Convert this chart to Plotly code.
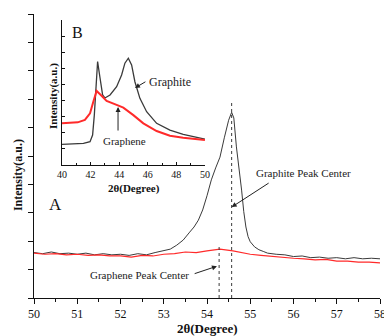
import plotly.graph_objects as go

# ---- Main panel (A) data ----
graphite_x = [50.0, 50.2, 50.4, 50.6, 50.8, 51.0, 51.2, 51.4, 51.6, 51.8, 52.0, 52.2, 52.4, 52.6, 52.8,
              53.0, 53.15, 53.3, 53.45, 53.6, 53.7, 53.8, 53.9, 54.0, 54.1, 54.2, 54.3, 54.4, 54.5,
              54.57, 54.62, 54.68, 54.75, 54.8, 54.85, 54.9, 54.95, 55.0, 55.1, 55.2, 55.3, 55.4,
              55.6, 55.8, 56.0, 56.2, 56.4, 56.6, 56.8, 57.0, 57.2, 57.4, 57.6, 57.8, 58.0]
graphite_y = [0.80, 0.78, 0.81, 0.78, 0.79, 0.77, 0.79, 0.76, 0.78, 0.76, 0.77, 0.75, 0.78, 0.76, 0.80,
              0.83, 0.86, 0.93, 1.02, 1.16, 1.25, 1.37, 1.55, 1.80, 2.08, 2.29, 2.48, 2.82, 3.13,
              3.27, 3.17, 2.66, 2.25, 1.90, 1.52, 1.25, 1.08, 0.99, 0.90, 0.85, 0.82, 0.79,
              0.77, 0.76, 0.73, 0.74, 0.71, 0.72, 0.70, 0.71, 0.69, 0.71, 0.69, 0.70, 0.69]

graphene_x = [50.0, 50.25, 50.5, 50.75, 51.0, 51.25, 51.5, 51.75, 52.0, 52.25, 52.5, 52.75, 53.0,
              53.25, 53.5, 53.75, 54.0, 54.3, 54.6, 54.8, 55.0, 55.25, 55.5, 55.75, 56.0, 56.25,
              56.5, 56.75, 57.0, 57.25, 57.5, 57.75, 58.0]
graphene_y = [0.79, 0.77, 0.78, 0.76, 0.77, 0.75, 0.76, 0.74, 0.74, 0.72, 0.75, 0.74, 0.77,
              0.78, 0.81, 0.80, 0.83, 0.86, 0.83, 0.80, 0.77, 0.75, 0.73, 0.72, 0.70, 0.69,
              0.67, 0.68, 0.65, 0.65, 0.63, 0.63, 0.62]

graphite_center = 54.57
graphene_center = 54.28

main_xticks = [50, 51, 52, 53, 54, 55, 56, 57, 58]

# ---- Inset panel (B) data ----
inset_graphite_x = [40.0, 40.5, 41.0, 41.5, 41.96, 42.14, 42.26, 42.38, 42.49, 42.66, 42.84, 43.0,
                    43.36, 43.82, 44.17, 44.4, 44.64, 44.87, 45.1, 45.45, 45.92, 46.62, 47.55,
                    48.48, 49.42, 50.0]
inset_graphite_y = [1.28, 1.30, 1.32, 1.35, 1.45, 1.86, 3.10, 5.17, 6.42, 5.40, 4.35, 4.16,
                    4.35, 4.86, 5.59, 6.32, 6.63, 6.21, 5.17, 4.14, 3.31, 2.59, 2.17,
                    1.91, 1.70, 1.61]

inset_graphene_x = [40.0, 40.5, 41.1, 41.6, 41.96, 42.19, 42.42, 42.66, 43.12, 43.82, 44.29, 44.99,
                    45.69, 46.62, 47.55, 48.48, 49.42, 50.0]
inset_graphene_y = [2.59, 2.62, 2.65, 2.80, 3.21, 3.93, 4.60, 4.39, 3.98, 3.73, 3.56, 3.10,
                    2.59, 2.11, 1.82, 1.70, 1.61, 1.55]

inset_xticks = [40, 42, 44, 46, 48, 50]

GRAY = "#3a3a3a"
RED = "#ff2a2a"
FONT = "Liberation Serif"

fig = go.Figure()
fig.add_trace(go.Scatter(x=graphite_x, y=graphite_y, mode="lines",
                         line=dict(color=GRAY, width=1), xaxis="x", yaxis="y"))
fig.add_trace(go.Scatter(x=graphene_x, y=graphene_y, mode="lines",
                         line=dict(color=RED, width=1.2), xaxis="x", yaxis="y"))
fig.add_trace(go.Scatter(x=inset_graphite_x, y=inset_graphite_y, mode="lines",
                         line=dict(color=GRAY, width=1.3), xaxis="x2", yaxis="y2"))
fig.add_trace(go.Scatter(x=inset_graphene_x, y=inset_graphene_y, mode="lines",
                         line=dict(color=RED, width=2), xaxis="x2", yaxis="y2"))

# peak-center dashed lines
fig.add_shape(type="line", xref="x", yref="y", x0=graphite_center, x1=graphite_center,
              y0=0, y1=3.47, line=dict(color=GRAY, width=1, dash="dot"))
fig.add_shape(type="line", xref="x", yref="y", x0=graphene_center, x1=graphene_center,
              y0=0, y1=0.95, line=dict(color=GRAY, width=1, dash="dot"))

ann_font = dict(family=FONT, size=11, color="#222")
C = dict(xanchor="center", yanchor="middle")
annotations = [
    dict(x=56.24, y=2.2, xref="x", yref="y", text="Graphite Peak Center", showarrow=False, font=ann_font, **C),
    dict(x=graphite_center, y=1.60, ax=55.46, ay=2.04, xref="x", yref="y", axref="x", ayref="y",
         text="", showarrow=True, arrowhead=2, arrowsize=1, arrowwidth=1, arrowcolor="#222"),
    dict(x=52.45, y=0.405, xref="x", yref="y", text="Graphene Peak Center", showarrow=False, font=ann_font, **C),
    dict(x=54.23, y=0.56, ax=53.68, ay=0.42, xref="x", yref="y", axref="x", ayref="y",
         text="", showarrow=True, arrowhead=2, arrowsize=1, arrowwidth=1, arrowcolor="#222"),
    dict(x=50.49, y=1.64, xref="x", yref="y", text="A", showarrow=False,
         font=dict(family=FONT, size=17, color="#111"), **C),
    dict(x=41.05, y=8.2, xref="x2", yref="y2", text="B", showarrow=False,
         font=dict(family=FONT, size=16, color="#111"), **C),
    dict(x=47.55, y=5.16, xref="x2", yref="y2", text="Graphite", showarrow=False,
         font=dict(family=FONT, size=12, color="#222"), **C),
    dict(x=45.1, y=4.78, ax=45.94, ay=5.22, xref="x2", yref="y2", axref="x2", ayref="y2",
         text="", showarrow=True, arrowhead=2, arrowsize=1, arrowwidth=1, arrowcolor="#222"),
    dict(x=44.34, y=1.49, xref="x2", yref="y2", text="Graphene", showarrow=False,
         font=dict(family=FONT, size=11, color="#222"), **C),
    dict(x=43.92, y=3.6, ax=43.92, ay=2.05, xref="x2", yref="y2", axref="x2", ayref="y2",
         text="", showarrow=True, arrowhead=2, arrowsize=1, arrowwidth=1, arrowcolor="#222"),
    # axis titles
    dict(x=0.502, y=-0.106, xref="paper", yref="paper", text="<b>2θ(Degree)</b>", showarrow=False,
         font=dict(family=FONT, size=13, color="#111"), **C),
    dict(x=-0.046, y=0.433, xref="paper", yref="paper", text="<b>Intensity(a.u.)</b>", showarrow=False,
         textangle=-90, font=dict(family=FONT, size=12, color="#111"), **C),
    dict(x=0.2876, y=0.387, xref="paper", yref="paper", text="<b>2θ(Degree)</b>", showarrow=False,
         font=dict(family=FONT, size=11, color="#111"), **C),
    dict(x=0.055, y=0.711, xref="paper", yref="paper", text="<b>Intensity(a.u.)</b>", showarrow=False,
         textangle=-90, font=dict(family=FONT, size=11, color="#111"), **C),
]

fig.update_layout(
    width=384, height=336,
    margin=dict(l=34, r=4, t=14, b=38),
    paper_bgcolor="white", plot_bgcolor="white",
    showlegend=False,
    font=dict(family=FONT, color="#111"),
    annotations=annotations,
    xaxis=dict(domain=[0, 1], range=[50, 58], tickvals=main_xticks, ticks="outside", ticklen=5,
               minor=dict(dtick=0.5, ticks="outside", ticklen=3, tickcolor="#111"),
               showline=True, linecolor="#111", linewidth=1, tickcolor="#111", showgrid=False,
               zeroline=False, tickfont=dict(family=FONT, size=12), automargin=False,
               ticklabeloverflow="allow"),
    yaxis=dict(domain=[0, 1], range=[0, 5], tickvals=[0, 0.5, 1, 1.5, 2, 2.5, 3, 3.5, 4, 4.5, 5],
               ticks="outside", ticklen=5, showticklabels=False,
               showline=True, linecolor="#111", linewidth=1, tickcolor="#111", showgrid=False,
               zeroline=False, automargin=False),
    xaxis2=dict(domain=[0.081, 0.494], anchor="y2", range=[40, 50], tickvals=inset_xticks,
                ticks="inside", ticklen=3,
                minor=dict(dtick=1, ticks="inside", ticklen=2, tickcolor="#111"),
                showline=True, linecolor="#111", linewidth=1, tickcolor="#111", showgrid=False,
                zeroline=False, tickfont=dict(family=FONT, size=10), automargin=False),
    yaxis2=dict(domain=[0.468, 0.979], anchor="x2", range=[0, 9], dtick=1,
                ticks="inside", ticklen=3, showticklabels=False,
                showline=True, linecolor="#111", linewidth=1, tickcolor="#111", showgrid=False,
                zeroline=False, automargin=False),
)

fig.write_html("out.html", config={"displayModeBar": False},
               post_script="document.body.style.margin='0';")
